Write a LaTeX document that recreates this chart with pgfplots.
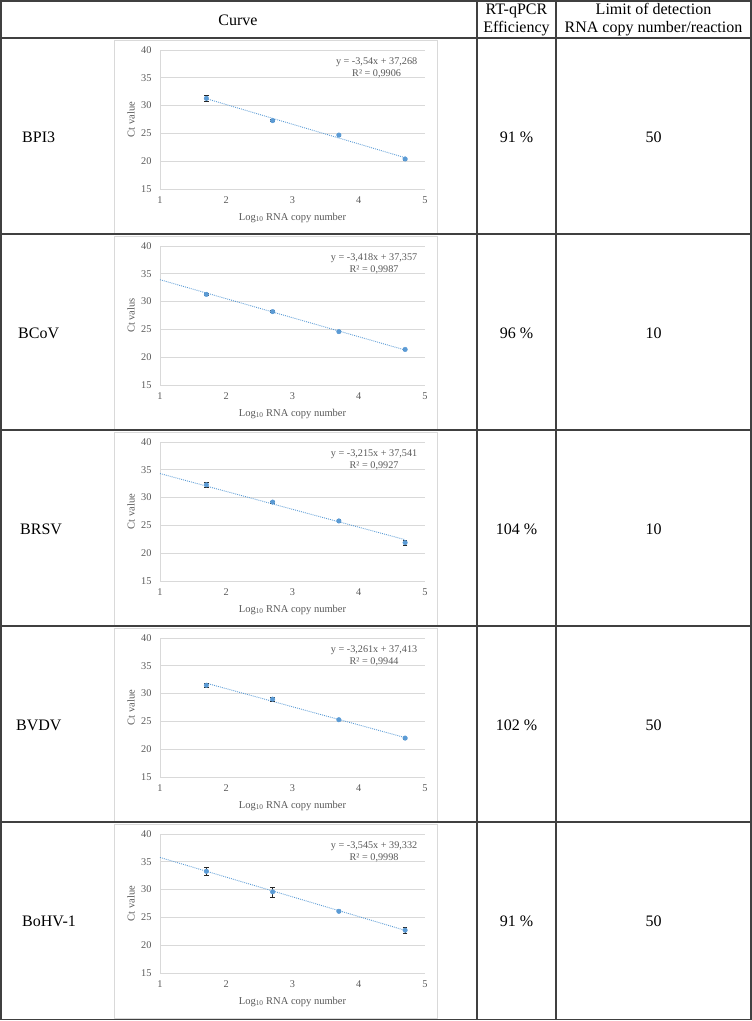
\documentclass[border=0pt]{standalone}
\usepackage{fontspec}
\setmainfont{Liberation Serif}
\usepackage{pgfplots}
\pgfplotsset{compat=1.18}
\definecolor{ptblue}{HTML}{5B9BD5}
\definecolor{txtgray}{HTML}{595959}
\definecolor{gridgray}{HTML}{D9D9D9}
\definecolor{tabline}{HTML}{404040}
\pgfplotsset{
 ctchart/.style={
  scale only axis, width=265pt, height=139pt, anchor=south west,
  xmin=1,xmax=5,ymin=15,ymax=40,
  xtick={1,2,3,4,5}, ytick={15,20,25,30,35,40},
  major tick length=0pt,
  axis lines=left, axis line style={-, draw=gridgray, line width=0.8pt},
  ymajorgrids, grid style={draw=gridgray, line width=0.8pt},
  tick label style={font=\fontsize{10.3}{12}\selectfont, text=txtgray},
  /pgf/number format/assume math mode=true,
  xticklabel style={yshift=-4pt},
  yticklabel style={xshift=-5pt},
  label style={font=\fontsize{10.5}{12}\selectfont, text=txtgray},
  xlabel={Log\textsubscript{10} RNA copy number},
  xlabel style={at={(axis description cs:0.5,-0.206)}, anchor=center},
  ylabel style={at={(axis description cs:-0.109,0.5)}, anchor=center},
  clip=false,
 },
 pts/.style={only marks, mark=*, mark size=2.3pt, color=ptblue, mark options={fill=ptblue, draw=ptblue},
   error bars/.cd, y dir=both, y explicit,
   error bar style={black!85, line width=0.6pt},
   error mark options={rotate=90, mark size=2.2pt, black!85, line width=0.6pt}},
 trend/.style={ptblue, line width=0.9pt, dash pattern=on 0.9pt off 1.1pt, no marks},
}
\newcommand{\eqnode}[1]{\node[anchor=east, align=center, font=\fontsize{10.2}{12.6}\selectfont, text=txtgray] at (axis description cs:0.984,0.872) {#1};}
\begin{document}
\begin{tikzpicture}
\useasboundingbox (0,0) rectangle (752pt,-1021pt);
% chart frames
\foreach \t/\b in {38/234,234/430,430/626,626/822,822/1019}{
  \draw[gridgray, line width=0.8pt] (114pt,-\t pt-2pt) rectangle (437pt,-\b pt+0.6pt);
}
% table lines
\draw[tabline, line width=1.2pt] (1pt,-1pt) rectangle (751pt,-1019.5pt);
\foreach \y in {38,234,430,626,822}{
  \draw[tabline, line width=1.2pt] (1pt,-\y pt) -- (751pt,-\y pt);
}
\draw[tabline, line width=1.2pt] (477pt,-1pt) -- (477pt,-1019.5pt);
\draw[tabline, line width=1.2pt] (556pt,-1pt) -- (556pt,-1019.5pt);
% header
\begin{scope}[every node/.style={font=\fontsize{16}{18}\selectfont, align=center}]
\node at (238pt,-20pt) {Curve};
\node at (516.5pt,-20pt) {RT-qPCR\\Efficiency};
\node at (653.5pt,-20pt) {Limit of detection\\RNA copy number/reaction};
\node[anchor=west, inner sep=0pt] at (22pt,-137pt) {BPI3};
\node[anchor=west, inner sep=0pt] at (18pt,-333pt) {BCoV};
\node[anchor=west, inner sep=0pt] at (20pt,-529pt) {BRSV};
\node[anchor=west, inner sep=0pt] at (16pt,-725pt) {BVDV};
\node[anchor=west, inner sep=0pt] at (22pt,-921pt) {BoHV-1};
\node at (516.5pt,-137pt) {91 \%};
\node at (516.5pt,-333pt) {96 \%};
\node at (516.5pt,-529pt) {104 \%};
\node at (516.5pt,-725pt) {102 \%};
\node at (516.5pt,-921pt) {91 \%};
\node at (653.5pt,-137pt) {50};
\node at (653.5pt,-333pt) {10};
\node at (653.5pt,-529pt) {10};
\node at (653.5pt,-725pt) {50};
\node at (653.5pt,-921pt) {50};
\end{scope}
% chart 1 BPI3
\begin{axis}[ctchart, at={(160pt,-189pt)}, ylabel={Ct value}]
\addplot[trend] coordinates {(1.7,31.25) (4.7,20.63)};
\addplot[pts] coordinates {(1.7,31.3) +- (0,0.6) (2.7,27.3) +- (0,0.2) (3.7,24.7) +- (0,0.15) (4.7,20.4) +- (0,0.15)};
\eqnode{y = -3,54x + 37,268\\R² = 0,9906}
\end{axis}
% chart 2 BCoV
\begin{axis}[ctchart, at={(160pt,-385pt)}, ylabel={Ct valus}]
\addplot[trend] coordinates {(1,33.939) (4.7,21.292)};
\addplot[pts] coordinates {(1.7,31.3) +- (0,0.2) (2.7,28.2) +- (0,0.2) (3.7,24.6) +- (0,0.15) (4.7,21.4) +- (0,0.2)};
\eqnode{y = -3,418x + 37,357\\R² = 0,9987}
\end{axis}
% chart 3 BRSV
\begin{axis}[ctchart, at={(160pt,-581pt)}, ylabel={Ct value}]
\addplot[trend] coordinates {(1,34.326) (4.7,22.43)};
\addplot[pts] coordinates {(1.7,32.3) +- (0,0.5) (2.7,29.2) +- (0,0.2) (3.7,25.8) +- (0,0.3) (4.7,21.9) +- (0,0.5)};
\eqnode{y = -3,215x + 37,541\\R² = 0,9927}
\end{axis}
% chart 4 BVDV
\begin{axis}[ctchart, at={(160pt,-777pt)}, ylabel={Ct value}]
\addplot[trend] coordinates {(1.7,31.869) (4.7,22.086)};
\addplot[pts] coordinates {(1.7,31.5) +- (0,0.35) (2.7,29.0) +- (0,0.3) (3.7,25.3) +- (0,0.15) (4.7,22.0) +- (0,0.15)};
\eqnode{y = -3,261x + 37,413\\R² = 0,9944}
\end{axis}
% chart 5 BoHV-1
\begin{axis}[ctchart, at={(160pt,-973pt)}, ylabel={Ct value}]
\addplot[trend] coordinates {(1,35.787) (4.7,22.671)};
\addplot[pts] coordinates {(1.7,33.3) +- (0,0.7) (2.7,29.6) +- (0,0.9) (3.7,26.1) +- (0,0.15) (4.7,22.7) +- (0,0.5)};
\eqnode{y = -3,545x + 39,332\\R² = 0,9998}
\end{axis}
\end{tikzpicture}
\end{document}
